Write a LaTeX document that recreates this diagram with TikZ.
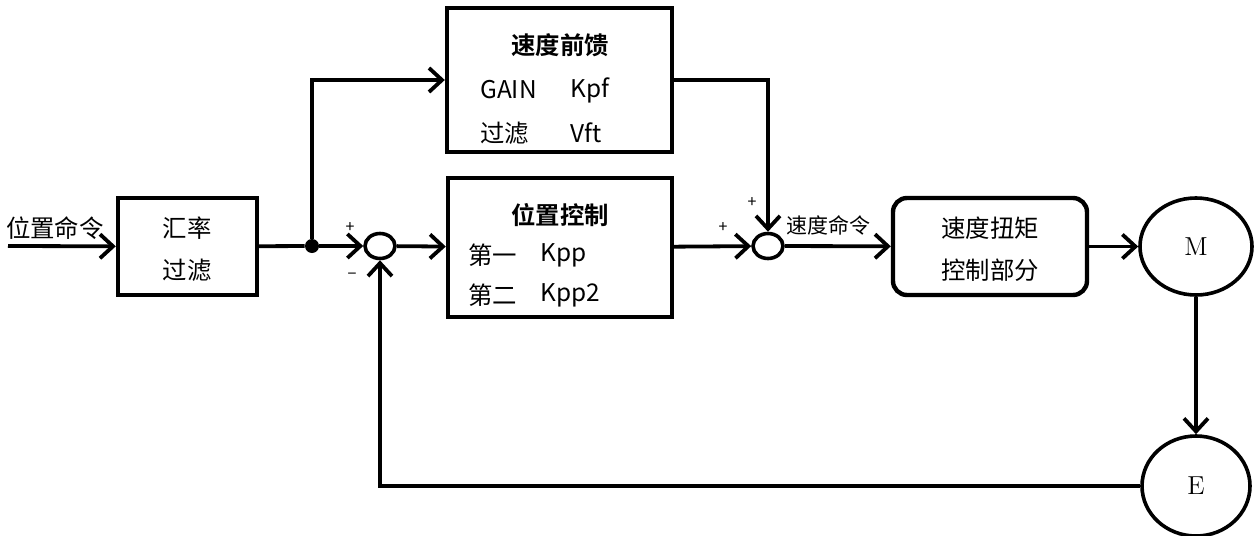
\documentclass[tikz,border=0pt]{standalone}
\usepackage{fontspec}
\newfontfamily\cjk{Noto Sans CJK SC}[BoldFont={Noto Sans CJK SC Bold}]
\usetikzlibrary{arrows.meta,shapes.geometric}

\tikzset{
  block/.style={draw, line width=2.2pt, inner sep=0pt},
  sumnode/.style={draw, ellipse, line width=1.8pt, minimum width=15pt, minimum height=12.5pt, inner sep=0pt},
  motor/.style={draw, ellipse, line width=1.8pt, inner sep=0pt, font=\fontsize{13}{15}\selectfont},
  dot/.style={circle, fill, minimum size=7pt, inner sep=0pt},
  link/.style={line width=1.9pt},
  arr/.style={link, -{Straight Barb[length=6.5pt,width=12pt,line width=1.9pt]}},
  lbl/.style={font=\cjk\fontsize{12.2}{14}\selectfont, inner sep=0pt},
  sig/.style={font=\cjk\fontsize{10.5}{12}\selectfont, inner sep=0pt},
  sign/.style={font=\cjk\fontsize{8}{9}\selectfont, inner sep=0pt},
}

\begin{document}
\begin{tikzpicture}[x=0.5pt,y=-0.5pt]
\useasboundingbox (0,0) rectangle (1260,536);

\coordinate (in) at (8,246);

\node[block, minimum width=69.5pt, minimum height=48.5pt] (filt) at (187.5,246.5) {};
\node[block, minimum width=112.5pt, minimum height=72pt] (ff) at (559.5,80) {};
\node[block, minimum width=112pt, minimum height=69.5pt] (pos) at (560,247.5) {};
\node[block, rounded corners=7pt, minimum width=97pt, minimum height=48.5pt] (spd) at (990,246.5) {};

\node[dot] (jn) at (312,246) {};
\node[sumnode] (sum1) at (380,246) {};
\node[sumnode] (sum2) at (768,246) {};

\node[motor, minimum width=56pt, minimum height=48.5pt] (mot) at (1196,246.5) {M};
\node[motor, minimum width=54pt, minimum height=50pt] (enc) at (1196,486) {E};

% texts
\node[lbl] (incmd) at (55,228) {位置命令};
\node[lbl] (filt1) at (187,228) {汇率};
\node[lbl] (filt2) at (187,270) {过滤};

\node[lbl, font=\cjk\bfseries\fontsize{12.2}{14}\selectfont] (fftitle) at (560,45) {速度前馈};
\node[lbl, anchor=west] (ffgain) at (480,90) {GAIN};
\node[lbl, anchor=west] (ffkpf) at (570,90) {Kpf};
\node[lbl, anchor=west] (fffilt) at (480,133) {过滤};
\node[lbl, anchor=west] (ffvft) at (570,133) {Vft};

\node[lbl, font=\cjk\bfseries\fontsize{12.2}{14}\selectfont] (postitle) at (560,215) {位置控制};
\node[lbl, anchor=west] (pos1) at (468,255) {第一};
\node[lbl, anchor=west] (poskpp) at (540,255) {Kpp};
\node[lbl, anchor=west] (pos2) at (468,295) {第二};
\node[lbl, anchor=west] (poskpp2) at (540,295) {Kpp2};

\node[lbl] (spd1) at (990,228) {速度扭矩};
\node[lbl] (spd2) at (990,270) {控制部分};

\node[sig] (vcmd) at (828,225) {速度命令};

\node[sign] (p1) at (350,228) {+};
\node[sign] (m1) at (352,276) {−};
\node[sign] (p2) at (752,203) {+};
\node[sign] (p3) at (723,228) {+};

% connectors
\draw[arr] (in) -- (filt);
\draw[link] (filt) -- (jn);
\draw[arr] (jn) |- (ff.west);
\draw[arr] (jn) -- (sum1);
\draw[arr] (sum1) -- (pos);
\draw[arr] (pos) -- (sum2);
\draw[arr] (ff.east) -| (sum2);
\draw[arr] (sum2) -- (spd);
\draw[arr] (spd) -- (mot);
\draw[arr] (mot) -- (enc);
\draw[arr] (enc) -| (sum1);
\end{tikzpicture}
\end{document}
